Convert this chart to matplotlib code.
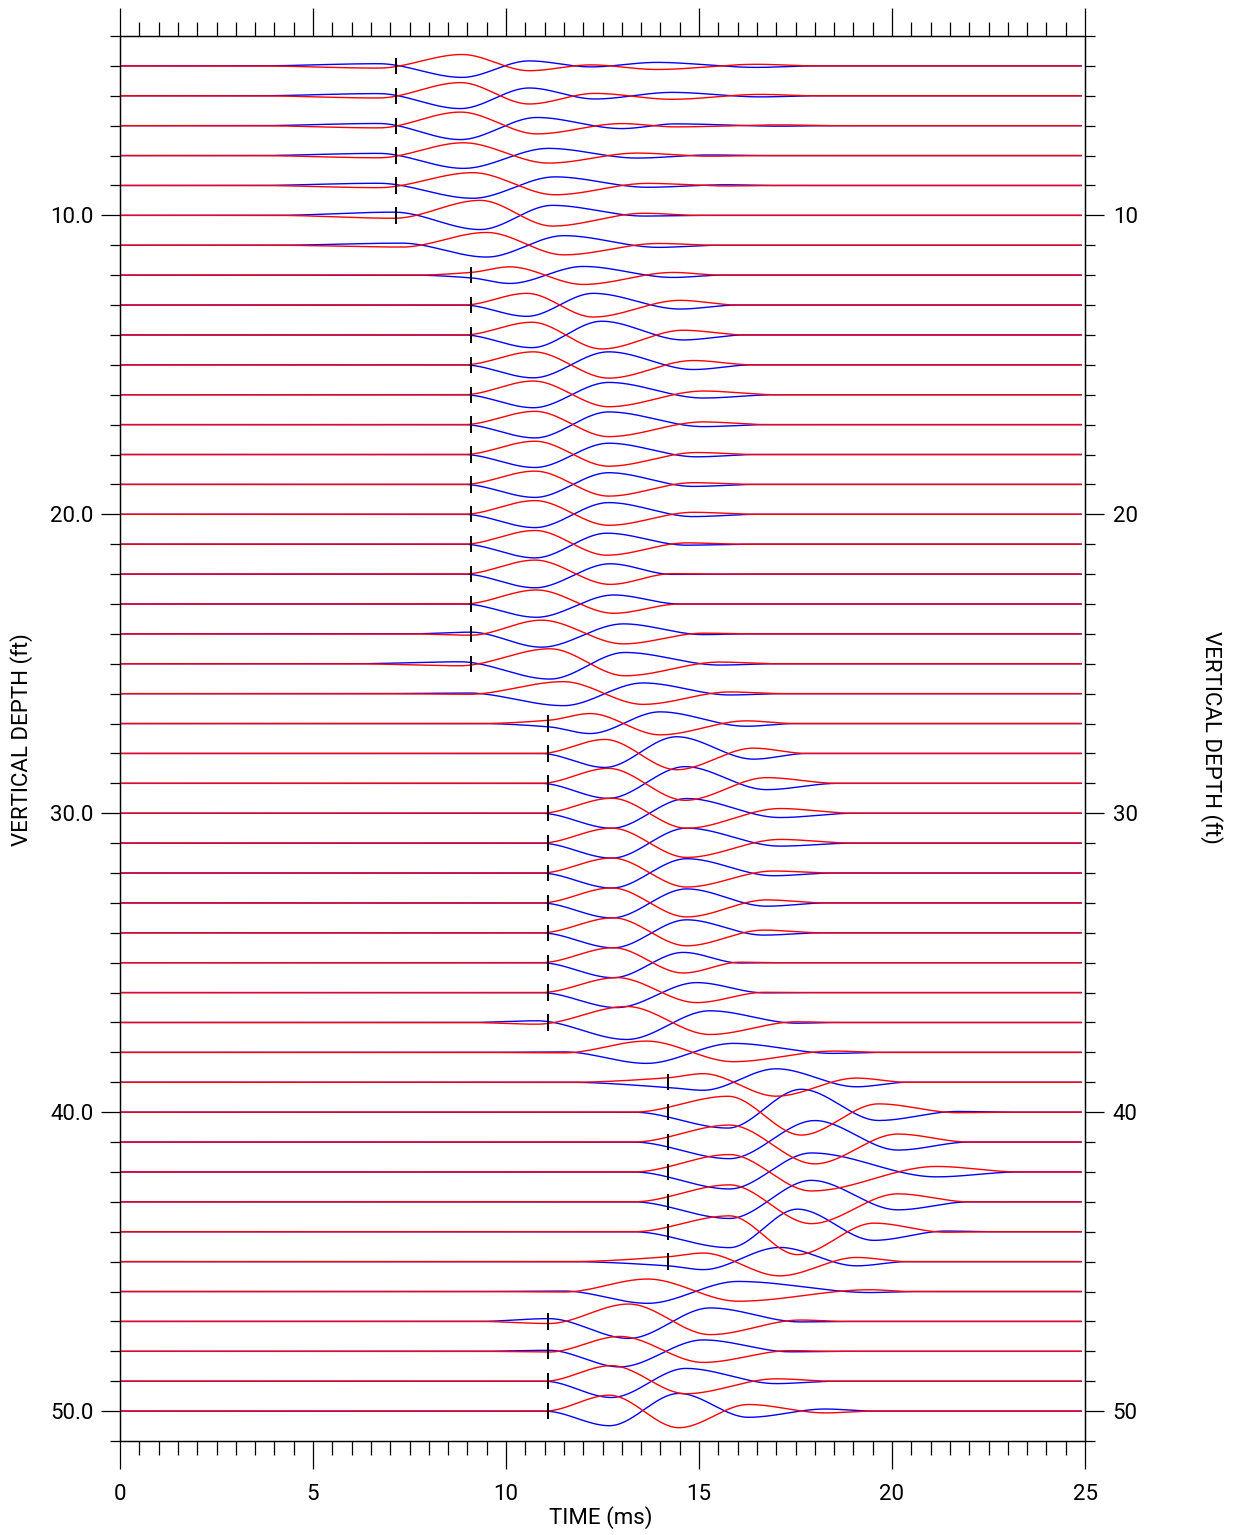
import matplotlib
matplotlib.use("Agg")
import matplotlib.pyplot as plt
import numpy as np
from matplotlib.ticker import MultipleLocator, FixedLocator, FixedFormatter

plt.rcParams["font.family"] = ["Roboto", "DejaVu Sans"]
plt.rcParams["font.weight"] = "normal"

# receiver depths (ft) and first-break picks (ms); None = no pick on that level
DEPTHS = list(range(5, 51))
PICKS = [7.15, 7.15, 7.15, 7.15, 7.15, 7.15, None,
         9.09, 9.09, 9.09, 9.09, 9.09, 9.09, 9.09, 9.09, 9.09, 9.09, 9.09, 9.09, 9.09, 9.09, None,
         11.1, 11.1, 11.1, 11.1, 11.1, 11.1, 11.1, 11.1, 11.1, 11.1, 11.1, None,
         14.2, 14.2, 14.2, 14.2, 14.2, 14.2, 14.2, None,
         11.1, 11.1, 11.1, 11.1]

# wiggle extrema: time (ms), red / blue amplitude (screen px, + = up)
KNOT_T = [
    [3.5, 6.7, 8.86, 10.6, 12.2, 13.9, 16.5, 18.0],
    [3.5, 6.7, 8.82, 10.6, 12.3, 14.3, 16.6, 18.0],
    [3.5, 6.7, 8.82, 10.8, 13.0, 14.4, 17.1, 18.5],
    [3.5, 6.7, 8.9, 11.1, 13.4, 15.25, 16.8],
    [3.5, 6.7, 9.14, 11.27, 13.67, 15.7, 17.0],
    [4.0, 7.1, 9.33, 11.2, 13.58, 15.0],
    [4.0, 7.3, 9.5, 11.5, 13.95, 15.5],
    [7.6, 9.09, 10.1, 12.0, 14.33, 15.6],
    [8.9, 10.54, 12.26, 14.51, 16.0],
    [8.9, 10.67, 12.48, 14.59, 16.2],
    [8.9, 10.71, 12.66, 14.85, 16.4],
    [8.9, 10.71, 12.66, 15.11, 17.0],
    [8.9, 10.75, 12.66, 15.11, 16.8],
    [8.9, 10.75, 12.66, 14.94, 16.5],
    [8.9, 10.75, 12.66, 14.85, 16.5],
    [8.9, 10.75, 12.66, 14.85, 16.5],
    [8.9, 10.75, 12.61, 14.68, 16.2],
    [8.9, 10.75, 12.7, 14.3, 15.5],
    [8.9, 10.79, 12.79, 14.5],
    [7.5, 9.09, 10.92, 13.04, 15.11, 16.3],
    [6.0, 8.8, 11.14, 13.08, 15.54, 17.0],
    [6.5, 9.0, 11.49, 13.55, 15.8, 17.2],
    [9.3, 11.11, 12.18, 13.99, 16.23, 17.5],
    [10.9, 12.56, 14.42, 16.41, 17.8],
    [10.9, 12.65, 14.64, 16.75, 18.6],
    [10.9, 12.74, 14.68, 17.1, 19.0],
    [10.9, 12.74, 14.68, 17.1, 19.0],
    [10.9, 12.74, 14.68, 16.93, 18.5],
    [10.9, 12.74, 14.68, 16.75, 18.3],
    [10.9, 12.78, 14.68, 16.67, 18.2],
    [10.9, 12.78, 14.59, 16.06, 17.0],
    [10.9, 12.87, 14.94, 16.7, 17.5],
    [9.0, 10.8, 13.13, 15.28, 17.53, 18.5],
    [9.0, 11.5, 13.64, 15.89, 18.48, 19.8],
    [11.6, 14.2, 15.11, 17.0, 19.08, 20.4],
    [13.3, 15.75, 17.65, 19.65, 21.69, 23.0],
    [13.3, 15.79, 18.0, 20.15, 22.0],
    [13.3, 15.79, 17.91, 21.15, 23.3],
    [13.3, 15.79, 17.91, 20.15, 22.0],
    [13.3, 15.79, 17.55, 19.53, 21.4, 22.5],
    [11.6, 14.2, 15.11, 17.09, 19.08, 20.4],
    [9.0, 11.5, 13.67, 16.01, 19.44, 20.5],
    [9.3, 11.11, 13.18, 15.29, 17.63, 18.8],
    [9.3, 11.11, 12.95, 15.11, 17.37, 18.5],
    [11.0, 12.73, 14.66, 17.0, 18.5],
    [11.0, 12.68, 14.48, 16.28, 18.27, 19.5],
]
RED_AMP = [
    [0, -2.2, 11.4, -4.8, 1.0, -3.6, 1.6, 0],
    [0, -2.2, 13.2, -8.2, 2.4, -3.5, 1.4, 0],
    [0, -2.2, 13.6, -8.2, 2.1, -1.2, 0.8, 0],
    [0, -2.2, 12.8, -7.5, 2.5, -0.6, 0],
    [0, -2.2, 12.8, -9.3, 2.1, -0.5, 0],
    [0, -2.9, 15.0, -10.7, 2.1, 0],
    [0, -1.8, 12.8, -9.6, 1.8, 0],
    [0, 2.7, 8.3, -9.3, 2.7, 0],
    [0, 11.7, -12.0, 4.7, 0],
    [0, 12.7, -14.0, 4.7, 0],
    [0, 13.0, -13.3, 4.3, 0],
    [0, 13.7, -12.0, 3.7, 0],
    [0, 13.3, -12.0, 2.7, 0],
    [0, 13.3, -11.7, 2.0, 0],
    [0, 13.3, -11.7, 1.7, 0],
    [0, 13.7, -11.0, 2.0, 0],
    [0, 13.7, -11.0, 1.3, 0],
    [0, 14.0, -10.3, 0.4, 0],
    [0, 14.0, -9.3, 0],
    [0, -1.3, 13.7, -10.0, 0.7, 0],
    [0, -2.0, 15.0, -12.0, 1.7, 0],
    [0, -0.7, 12.0, -10.7, 1.7, 0],
    [0, 3.3, 10.0, -11.3, 2.7, 0],
    [0, 14.0, -16.3, 5.3, 0],
    [0, 15.0, -17.0, 5.7, 0],
    [0, 15.0, -15.0, 4.7, 0],
    [0, 15.0, -14.3, 3.7, 0],
    [0, 15.0, -14.0, 2.0, 0],
    [0, 15.0, -14.0, 3.0, 0],
    [0, 15.0, -13.0, 2.7, 0],
    [0, 15.0, -10.3, 0.5, 0],
    [0, 15.0, -10.0, 0.3, 0],
    [0, -1.7, 16.0, -12.0, 0.7, 0],
    [0, -0.5, 11.3, -9.3, 1.3, 0],
    [0, 4.5, 8.6, -13.9, 4.2, 0],
    [0, 15.9, -22.9, 8.3, -0.5, 0],
    [0, 17.0, -21.8, 8.0, 0],
    [0, 17.4, -19.0, 5.5, 0],
    [0, 17.0, -21.8, 8.0, 0],
    [0, 15.9, -22.9, 8.6, -0.5, 0],
    [0, 4.9, 8.6, -14.2, 4.2, 0],
    [0, -0.5, 12.5, -9.7, 1.8, 0],
    [0, -2.1, 17.4, -13.2, 1.4, 0],
    [0, -0.7, 14.9, -11.1, 0.7, 0],
    [0, 15.6, -12.5, 2.4, 0],
    [0, 15.9, -16.6, 6.6, -1.8, 0],
]
BLUE_AMP = [
    [0, 2.2, -11.5, 5.0, -1.0, 3.5, -1.5, 0],
    [0, 2.2, -12.8, 7.8, -3.2, 3.4, -1.1, 0],
    [0, 2.2, -13.9, 8.2, -2.9, 1.8, -0.5, 0],
    [0, 2.2, -12.8, 7.2, -2.5, 0.6, 0],
    [0, 2.2, -12.8, 8.6, -1.8, 0.7, 0],
    [0, 3.2, -14.2, 10.0, -0.7, 0],
    [0, 2.1, -11.8, 9.6, -2.1, 0],
    [0, -2.7, -8.3, 8.7, -2.3, 0],
    [0, -11.3, 11.7, -4.0, 0],
    [0, -12.7, 13.7, -5.0, 0],
    [0, -13.0, 13.0, -4.7, 0],
    [0, -13.0, 12.3, -3.3, 0],
    [0, -13.3, 12.7, -2.0, 0],
    [0, -13.0, 11.3, -2.3, 0],
    [0, -13.0, 11.7, -2.0, 0],
    [0, -13.3, 11.7, -2.3, 0],
    [0, -13.7, 11.0, -1.0, 0],
    [0, -13.7, 10.3, -0.3, 0],
    [0, -13.3, 9.0, 0],
    [0, 1.7, -13.3, 10.0, -0.7, 0],
    [0, 2.0, -15.3, 11.3, -1.3, 0],
    [0, 0.7, -12.0, 10.7, -1.3, 0],
    [0, -3.3, -10.0, 11.7, -2.7, 0],
    [0, -14.0, 16.7, -5.7, 0],
    [0, -15.0, 16.7, -6.3, 0],
    [0, -15.0, 14.7, -4.3, 0],
    [0, -15.0, 15.0, -3.0, 0],
    [0, -15.0, 14.3, -2.7, 0],
    [0, -15.0, 14.0, -3.3, 0],
    [0, -15.0, 13.0, -2.3, 0],
    [0, -15.0, 10.3, -0.3, 0],
    [0, -15.0, 10.0, -0.3, 0],
    [0, 1.7, -17.0, 11.7, -0.7, 0],
    [0, 0.5, -11.0, 9.0, -1.0, 0],
    [0, -5.2, -8.0, 13.5, -4.5, 0],
    [0, -15.9, 22.9, -8.3, 0.7, 0],
    [0, -16.6, 21.5, -8.0, 0],
    [0, -17.0, 19.0, -4.9, 0],
    [0, -16.6, 21.5, -8.0, 0],
    [0, -15.9, 22.6, -8.6, 0.7, 0],
    [0, -4.2, -8.0, 14.2, -4.2, 0],
    [0, 0.5, -11.8, 10.1, -1.0, 0],
    [0, 2.8, -17.0, 13.5, -0.5, 0],
    [0, 1.0, -15.6, 11.4, -0.5, 0],
    [0, -16.3, 12.8, -2.4, 0],
    [0, -14.6, 17.7, -6.2, 2.1, 0],
]

T_END = 24.9
PX_PER_FT = 29.9


def pchip(x, y, xs):
    # monotone cubic through the read-off extrema (flat at each peak)
    x = np.asarray(x, float)
    y = np.asarray(y, float)
    h = np.diff(x)
    d = np.diff(y) / h
    m = np.zeros_like(y)
    for k in range(1, len(x) - 1):
        if d[k - 1] * d[k] > 0:
            w1 = 2 * h[k] + h[k - 1]
            w2 = h[k] + 2 * h[k - 1]
            m[k] = (w1 + w2) / (w1 / d[k - 1] + w2 / d[k])
    i = np.clip(np.searchsorted(x, xs) - 1, 0, len(x) - 2)
    s = (xs - x[i]) / h[i]
    h00 = 2 * s**3 - 3 * s**2 + 1
    h10 = s**3 - 2 * s**2 + s
    h01 = -2 * s**3 + 3 * s**2
    h11 = s**3 - s**2
    return h00 * y[i] + h10 * h[i] * m[i] + h01 * y[i + 1] + h11 * h[i] * m[i + 1]


fig = plt.figure(figsize=(12.33, 15.35), dpi=100)
ax = fig.add_axes([120 / 1233, 94 / 1535, 965 / 1233, 1405 / 1535])

ts = np.linspace(0, T_END, 2000)
for k, dep in enumerate(DEPTHS):
    kt = [0.0] + KNOT_T[k] + [T_END]
    red = pchip(kt, [0.0] + RED_AMP[k] + [0.0], ts)
    blue = pchip(kt, [0.0] + BLUE_AMP[k] + [0.0], ts)
    ax.plot(ts, dep - blue / PX_PER_FT, color="#0000ff", lw=1.0, zorder=2)
    ax.plot(ts, dep - red / PX_PER_FT, color="#ff0000", lw=1.0, zorder=3)
    if PICKS[k] is not None:
        ax.plot([PICKS[k]] * 2, [dep - 0.24, dep + 0.24], color="black", lw=1.4, zorder=4)

ax.set_xlim(0, 25)
ax.set_ylim(51, 4)
for sp in ax.spines.values():
    sp.set_linewidth(0.9)

ax.xaxis.set_major_locator(MultipleLocator(5))
ax.xaxis.set_minor_locator(MultipleLocator(0.5))
ax.tick_params(axis="x", which="major", direction="out", length=20, width=0.9,
               top=True, bottom=True, labeltop=False, pad=11, labelsize=16)
ax.tick_params(axis="x", which="minor", direction="out", length=10, width=0.9,
               top=True, bottom=True)

ylab = [10, 20, 30, 40, 50]
ax.yaxis.set_major_locator(FixedLocator(ylab))
ax.yaxis.set_major_formatter(FixedFormatter([f"{v:.1f}" for v in ylab]))
ax.yaxis.set_minor_locator(MultipleLocator(1))
ax.tick_params(axis="y", which="major", direction="out", length=14, width=0.9,
               left=True, right=False, pad=5, labelsize=16)
ax.tick_params(axis="y", which="minor", direction="out", length=7, width=0.9,
               left=True, right=False)

ax2 = ax.twinx()
ax2.set_ylim(51, 4)
ax2.yaxis.set_major_locator(FixedLocator(ylab))
ax2.yaxis.set_major_formatter(FixedFormatter([str(v) for v in ylab]))
ax2.yaxis.set_minor_locator(MultipleLocator(1))
ax2.tick_params(axis="y", which="major", direction="out", length=14, width=0.9,
                pad=6, labelsize=16)
ax2.tick_params(axis="y", which="minor", direction="out", length=7, width=0.9)
for sp in ax2.spines.values():
    sp.set_linewidth(0.9)

fig.text(601 / 1233, 1 - 1518 / 1535, "TIME (ms)", ha="center", va="center", fontsize=16)
fig.text(22 / 1233, 1 - 740 / 1535, "VERTICAL DEPTH (ft)", ha="center", va="center",
         rotation=90, fontsize=16)
fig.text(1211 / 1233, 1 - 737 / 1535, "VERTICAL DEPTH (ft)", ha="center", va="center",
         rotation=270, fontsize=16)

fig.savefig("out.png", dpi=100)
